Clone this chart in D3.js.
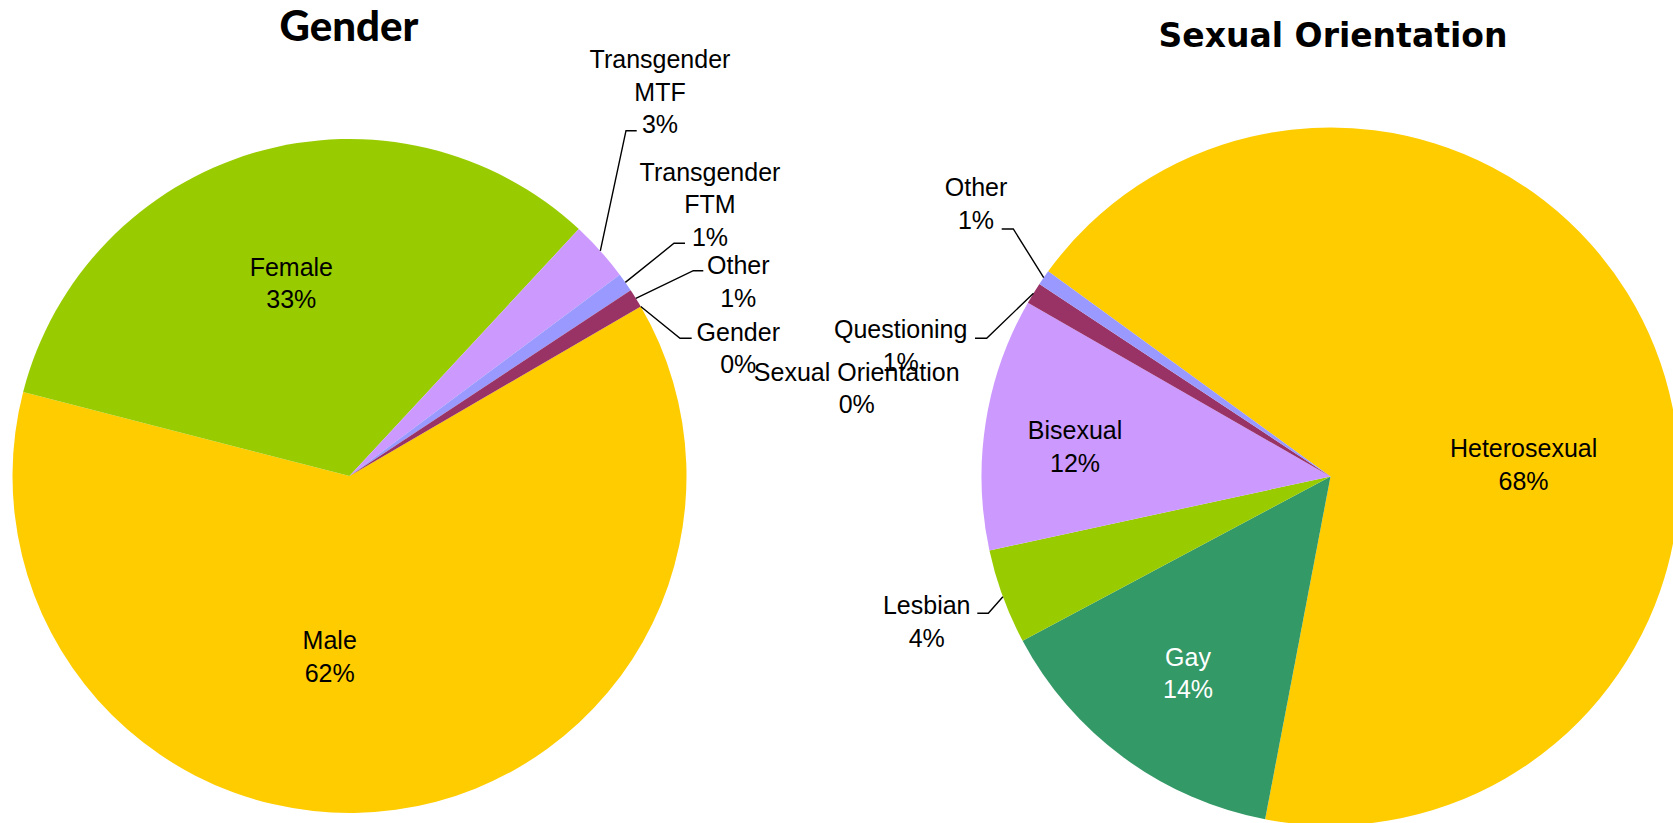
<!DOCTYPE html>
<html>
<head>
<meta charset="utf-8">
<script src="https://cdn.jsdelivr.net/npm/d3@7/dist/d3.min.js"></script>
<style>
  body { margin: 0; background: #fff; }
  text { font-family: "Liberation Sans", Arial, sans-serif; }
</style>
</head>
<body>
<svg width="1673" height="823"></svg>
<script>
// Gender breakdown (percent)
var genderCategories = ["Male", "Female", "Transgender MTF", "Transgender FTM", "Other", "Gender"];
var genderValues = [62.4, 32.9, 2.9, 0.9, 0.9, 0];
var genderColors = ["#FFCC00", "#99CC00", "#CC99FF", "#9999FF", "#993366", "#FFFFFF"];

// Sexual orientation breakdown (percent)
var orientCategories = ["Heterosexual", "Gay", "Lesbian", "Bisexual", "Questioning", "Other", "Sexual Orientation"];
var orientValues = [68.0, 14.2, 4.4, 11.7, 1.0, 0.7, 0];
var orientColors = ["#FFCC00", "#339966", "#99CC00", "#CC99FF", "#993366", "#9999FF", "#FFFFFF"];

var svg = d3.select("svg");
var lineH = 32.5, fontSize = 25;

// label placement: [dx, dy] of first line relative to pie centre, optional leader elbow [ex, ey, endX]
var genderLayout = [
  { pos: [-19.8, 164.3] },
  { pos: [-58.2, -209.2] },
  { pos: [310.5, -416.7], elbow: [276.5, -345.3, 287.2] },
  { pos: [360.5, -304.3], elbow: [324.5, -232.7, 335.5] },
  { pos: [388.8, -211], elbow: [343.8, -205.3, 353.8] },
  { pos: [388.8, -144.3], elbow: [330.5, -137.7, 342.2] }
];
var orientLayout = [
  { pos: [193.1, -28.4] },
  { pos: [-142.5, 180], fill: "#fff" },
  { pos: [-403.8, 128.5], elbow: [-342.2, 136.8, -353.2] },
  { pos: [-255.5, -46.5] },
  { pos: [-429.8, -147.5], elbow: [-343.8, -138.2, -355.5] },
  { pos: [-354.5, -289.2], elbow: [-317.2, -247.5, -328.8] },
  { pos: [-473.8, -104.8] }
];

function drawPie(cfg) {
  var g = svg.append("g").attr("transform", "translate(" + cfg.cx + "," + cfg.cy + ")");
  var start = cfg.startDeg * Math.PI / 180;
  var pie = d3.pie().sort(null).value(function(d) { return d; })
      .startAngle(start).endAngle(start + 2 * Math.PI);
  var arcs = pie(cfg.values);
  var total = d3.sum(cfg.values);
  var arc = d3.arc().innerRadius(0).outerRadius(cfg.r);
  var edge = d3.arc().innerRadius(cfg.r).outerRadius(cfg.r);

  g.selectAll("path.slice")
    .data(arcs)
    .enter().append("path")
      .attr("class", "slice")
      .attr("fill", function(d, i) { return cfg.colors[i]; })
      .attr("d", arc);

  // leader lines
  arcs.forEach(function(d, i) {
    var lay = cfg.layout[i];
    if (!lay.elbow) return;
    var p = edge.centroid(d);
    g.append("path")
      .attr("fill", "none")
      .attr("stroke", "#000")
      .attr("stroke-width", 1.4)
      .attr("d", d3.line()([p, [lay.elbow[0], lay.elbow[1]], [lay.elbow[2], lay.elbow[1]]]));
  });

  // data labels
  arcs.forEach(function(d, i) {
    var lay = cfg.layout[i];
    var name = cfg.categories[i];
    var lines = name.indexOf("Transgender ") === 0 ? name.split(" ") : [name];
    lines.push(Math.round(d.data / total * 100) + "%");
    var t = g.append("text")
      .attr("text-anchor", "middle")
      .attr("font-size", fontSize)
      .attr("fill", lay.fill || "#000");
    lines.forEach(function(s, k) {
      t.append("tspan")
        .attr("x", lay.pos[0])
        .attr("y", lay.pos[1] + k * lineH + 9)
        .text(s);
    });
  });
}

drawPie({ cx: 349.5, cy: 476, r: 337, startDeg: 59.8, values: genderValues,
          categories: genderCategories, colors: genderColors, layout: genderLayout });
drawPie({ cx: 1330.5, cy: 476.5, r: 349, startDeg: 306, values: orientValues,
          categories: orientCategories, colors: orientColors, layout: orientLayout });

// titles
svg.append("text")
  .attr("x", 349).attr("y", 41)
  .attr("text-anchor", "middle")
  .style("font-family", "Lato, 'Open Sans', sans-serif")
  .attr("font-weight", 900)
  .attr("font-size", 42)
  .text("Gender");

svg.append("text")
  .attr("x", 1333).attr("y", 47)
  .attr("text-anchor", "middle")
  .style("font-family", "'DejaVu Sans', sans-serif")
  .attr("font-weight", "bold")
  .attr("font-size", 33)
  .text("Sexual Orientation");
</script>
</body>
</html>
